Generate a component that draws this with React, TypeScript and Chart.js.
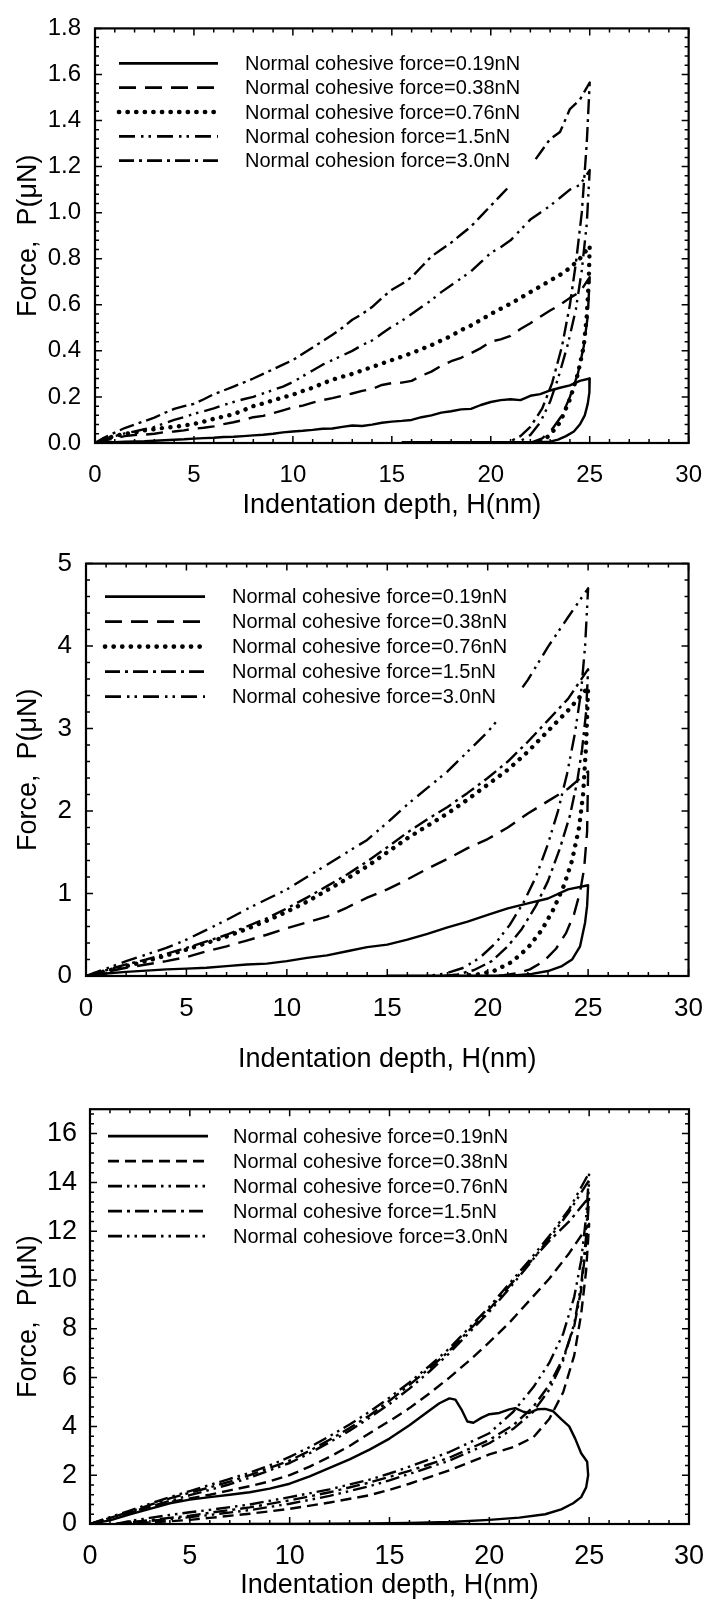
import React, { useEffect, useRef } from 'react';
import { Chart, registerables } from 'chart.js';

Chart.register(...registerables);

const FONT = "'Liberation Sans', Arial, Helvetica, sans-serif";
const X_TITLE = 'Indentation depth, H(nm)';
const Y_TITLE = 'Force,  P(\u03BCN)';

// ---------------- Chart 1 ----------------
const C1_LABELS = [
  'Normal cohesive force=0.19nN',
  'Normal cohesive force=0.38nN',
  'Normal cohesive force=0.76nN',
  'Normal cohesion force=1.5nN',
  'Normal cohesion force=3.0nN',
];
const C1_Y_TICKS = [0, 0.2, 0.4, 0.6, 0.8, 1.0, 1.2, 1.4, 1.6, 1.8];
const H1_LOAD = [0, 0.5, 1, 1.5, 2, 2.5, 3, 3.5, 4, 4.5, 5, 5.5, 6, 6.5, 7, 7.5, 8, 8.5, 9, 9.5, 10, 10.5, 11, 11.5, 12, 12.5, 13, 13.5, 14, 14.5, 15, 15.5, 16, 16.5, 17, 17.5, 18, 18.5, 19, 19.5, 20, 20.5, 21, 21.5, 22, 22.5, 23, 23.5, 24, 24.5, 25];
const P1_019_LOAD = [0, 0.003, 0.004, 0.006, 0.007, 0.008, 0.01, 0.012, 0.014, 0.016, 0.019, 0.021, 0.023, 0.026, 0.027, 0.03, 0.033, 0.036, 0.04, 0.046, 0.05, 0.053, 0.057, 0.062, 0.063, 0.07, 0.076, 0.074, 0.08, 0.088, 0.093, 0.096, 0.1, 0.112, 0.12, 0.132, 0.138, 0.146, 0.148, 0.165, 0.178, 0.186, 0.19, 0.186, 0.205, 0.212, 0.228, 0.24, 0.25, 0.27, 0.28];
const P1_038_LOAD = [0, 0.012, 0.02, 0.03, 0.035, 0.036, 0.04, 0.047, 0.05, 0.055, 0.062, 0.066, 0.072, 0.082, 0.09, 0.1, 0.112, 0.118, 0.13, 0.142, 0.155, 0.162, 0.175, 0.186, 0.195, 0.205, 0.215, 0.226, 0.235, 0.252, 0.26, 0.262, 0.27, 0.292, 0.31, 0.335, 0.355, 0.37, 0.39, 0.412, 0.44, 0.45, 0.465, 0.495, 0.52, 0.548, 0.575, 0.6, 0.63, 0.655, 0.72];
const P1_076_LOAD = [0, 0.018, 0.03, 0.04, 0.045, 0.055, 0.06, 0.066, 0.07, 0.076, 0.083, 0.093, 0.105, 0.115, 0.125, 0.142, 0.16, 0.172, 0.185, 0.198, 0.21, 0.226, 0.24, 0.258, 0.275, 0.288, 0.3, 0.315, 0.33, 0.345, 0.36, 0.375, 0.39, 0.408, 0.425, 0.445, 0.465, 0.49, 0.51, 0.535, 0.56, 0.583, 0.605, 0.63, 0.655, 0.68, 0.705, 0.73, 0.76, 0.8, 0.855];
const P1_15_LOAD = [0, 0.018, 0.03, 0.042, 0.05, 0.06, 0.07, 0.085, 0.1, 0.112, 0.127, 0.138, 0.15, 0.165, 0.178, 0.19, 0.2, 0.215, 0.23, 0.245, 0.265, 0.29, 0.315, 0.34, 0.36, 0.38, 0.4, 0.425, 0.445, 0.475, 0.505, 0.53, 0.56, 0.59, 0.62, 0.655, 0.685, 0.715, 0.745, 0.785, 0.825, 0.85, 0.88, 0.925, 0.97, 1.0, 1.03, 1.065, 1.1, 1.12, 1.185];
const P1_30_LOAD = [0, 0.025, 0.045, 0.065, 0.08, 0.095, 0.11, 0.13, 0.148, 0.16, 0.17, 0.19, 0.212, 0.228, 0.245, 0.262, 0.28, 0.3, 0.32, 0.34, 0.36, 0.388, 0.415, 0.442, 0.47, 0.5, 0.535, 0.56, 0.59, 0.63, 0.665, 0.69, 0.72, 0.765, 0.81, 0.84, 0.87, 0.905, 0.94, 0.985, 1.03, 1.075, 1.12, 1.16, 1.2, 1.26, 1.32, 1.35, 1.45, 1.49, 1.565];
const H1_019_UNLOAD = [25, 24.97, 24.9, 24.75, 24.5, 24.2, 23.8, 23.4, 23.0, 22.5, 21, 18, 15.5];
const P1_019_UNLOAD = [0.28, 0.22, 0.17, 0.12, 0.08, 0.05, 0.03, 0.015, 0.006, 0.003, 0.003, 0.003, 0.003];
const H1_038_UNLOAD = [25, 24.9, 24.7, 24.4, 24.0, 23.6, 23.1, 22.6, 22.1, 21.8];
const P1_038_UNLOAD = [0.72, 0.55, 0.42, 0.3, 0.2, 0.12, 0.06, 0.02, 0.004, 0];
const H1_076_UNLOAD = [25, 24.95, 24.85, 24.7, 24.4, 24.0, 23.5, 23.0, 22.6, 22.3];
const P1_076_UNLOAD = [0.855, 0.7, 0.55, 0.42, 0.3, 0.19, 0.09, 0.035, 0.01, 0];
const H1_15_UNLOAD = [25, 24.85, 24.6, 24.3, 23.9, 23.4, 23.0, 22.5, 22.0, 21.5, 21.2];
const P1_15_UNLOAD = [1.185, 0.95, 0.75, 0.58, 0.43, 0.28, 0.18, 0.09, 0.035, 0.008, 0];
const H1_30_UNLOAD = [25, 24.85, 24.6, 24.3, 24.0, 23.6, 23.1, 22.6, 22.0, 21.5, 21.0, 20.7];
const P1_30_UNLOAD = [1.565, 1.3, 1.0, 0.78, 0.6, 0.42, 0.26, 0.15, 0.07, 0.03, 0.008, 0];

// ---------------- Chart 2 ----------------
const C2_LABELS = [
  'Normal cohesive force=0.19nN',
  'Normal cohesive force=0.38nN',
  'Normal cohesive force=0.76nN',
  'Normal cohesive force=1.5nN',
  'Normal cohesive force=3.0nN',
];
const H2_LOAD = [0, 1, 2, 3, 4, 5, 6, 7, 8, 9, 10, 11, 12, 13, 14, 15, 16, 17, 18, 19, 20, 21, 22, 23, 24, 25];
const P2_019_LOAD = [0, 0.03, 0.05, 0.065, 0.08, 0.09, 0.1, 0.12, 0.14, 0.15, 0.18, 0.22, 0.25, 0.3, 0.35, 0.38, 0.44, 0.51, 0.59, 0.66, 0.74, 0.82, 0.88, 0.94, 1.05, 1.1];
const P2_038_LOAD = [0, 0.05, 0.1, 0.14, 0.18, 0.23, 0.3, 0.36, 0.43, 0.5, 0.58, 0.65, 0.72, 0.83, 0.95, 1.05, 1.17, 1.3, 1.42, 1.55, 1.66, 1.8, 1.97, 2.12, 2.27, 2.48];
const P2_076_LOAD = [0, 0.06, 0.12, 0.18, 0.25, 0.32, 0.4, 0.48, 0.57, 0.67, 0.78, 0.9, 1.04, 1.18, 1.33, 1.5, 1.67, 1.82, 1.97, 2.14, 2.32, 2.5, 2.72, 2.97, 3.22, 3.5];
const P2_15_LOAD = [0, 0.07, 0.14, 0.2, 0.27, 0.34, 0.42, 0.5, 0.6, 0.7, 0.82, 0.95, 1.09, 1.23, 1.39, 1.56, 1.74, 1.9, 2.05, 2.22, 2.4, 2.6, 2.84, 3.1, 3.36, 3.72];
const P2_30_LOAD = [0, 0.09, 0.18, 0.26, 0.34, 0.44, 0.56, 0.68, 0.81, 0.93, 1.05, 1.2, 1.35, 1.5, 1.65, 1.86, 2.08, 2.28, 2.48, 2.72, 2.96, 3.25, 3.59, 3.99, 4.35, 4.7];
const H2_019_UNLOAD = [25, 24.95, 24.85, 24.6, 24.2, 23.7, 23.0, 22.2, 21.3, 20.5, 18, 15];
const P2_019_UNLOAD = [1.1, 0.85, 0.65, 0.36, 0.2, 0.12, 0.06, 0.025, 0.008, 0.003, 0.003, 0.003];
const H2_038_UNLOAD = [25, 24.95, 24.8, 24.6, 24.3, 23.9, 23.4, 22.8, 22.1, 21.4, 20.8, 20.3];
const P2_038_UNLOAD = [2.48, 1.75, 1.3, 1.02, 0.75, 0.52, 0.33, 0.18, 0.08, 0.03, 0.01, 0];
const H2_076_UNLOAD = [25, 24.9, 24.75, 24.55, 24.2, 23.8, 23.3, 22.7, 22.0, 21.2, 20.3, 19.5, 18.7];
const P2_076_UNLOAD = [3.5, 2.8, 2.2, 1.8, 1.4, 1.1, 0.82, 0.56, 0.34, 0.17, 0.06, 0.02, 0];
const H2_15_UNLOAD = [25, 24.9, 24.7, 24.45, 24.1, 23.6, 23.0, 22.4, 21.7, 21.0, 20.2, 19.3, 18.5, 17.8];
const P2_15_UNLOAD = [3.72, 3.2, 2.75, 2.35, 1.95, 1.55, 1.15, 0.85, 0.57, 0.36, 0.18, 0.07, 0.02, 0];
const H2_30_UNLOAD = [25, 24.85, 24.65, 24.35, 23.95, 23.5, 23.0, 22.4, 21.8, 21.1, 20.4, 19.6, 18.8, 17.9, 17.0];
const P2_30_UNLOAD = [4.7, 4.0, 3.45, 2.95, 2.45, 2.0, 1.6, 1.2, 0.9, 0.62, 0.4, 0.22, 0.1, 0.03, 0];

// ---------------- Chart 3 ----------------
const C3_LABELS = [
  'Normal cohesive force=0.19nN',
  'Normal cohesive force=0.38nN',
  'Normal cohesive force=0.76nN',
  'Normal cohesive force=1.5nN',
  'Normal cohesiove force=3.0nN',
];
const H3_019_LOAD = [0, 1, 2, 3, 4, 5, 6, 7, 8, 9, 10, 11, 12, 13, 14, 15, 16, 17, 17.5, 18, 18.3, 18.6, 18.9, 19.2, 19.6, 20, 20.5, 21, 21.3, 21.7, 22, 22.4, 22.8, 23.2, 23.6, 24, 24.3, 24.6, 24.9];
const P3_019_LOAD = [0, 0.15, 0.4, 0.62, 0.85, 1.0, 1.1, 1.2, 1.3, 1.45, 1.65, 1.95, 2.3, 2.65, 3.05, 3.5, 4.05, 4.65, 4.95, 5.15, 5.1, 4.7, 4.2, 4.15, 4.35, 4.5, 4.55, 4.7, 4.75, 4.6, 4.55, 4.7, 4.72, 4.62, 4.3, 4.0, 3.5, 2.9, 2.55];
const H3_019_UNLOAD = [24.9, 24.95, 24.85, 24.6, 24.2, 23.6, 22.8, 21.5, 20, 18, 16, 14, 12, 10, 8];
const P3_019_UNLOAD = [2.55, 2.0, 1.5, 1.1, 0.85, 0.6, 0.4, 0.26, 0.17, 0.08, 0.04, 0.02, 0.01, 0.003, 0];
const H3_LOAD = [0, 1, 2, 3, 4, 5, 6, 7, 8, 9, 10, 11, 12, 13, 14, 15, 16, 17, 18, 19, 20, 21, 22, 23, 24, 25];
const P3_038_LOAD = [0, 0.25, 0.5, 0.7, 0.9, 1.05, 1.2, 1.38, 1.55, 1.75, 2.0, 2.35, 2.75, 3.2, 3.72, 4.22, 4.75, 5.35, 6.0, 6.7, 7.45, 8.25, 9.15, 10.05, 11.1, 12.3];
const P3_076_LOAD = [0, 0.22, 0.45, 0.7, 0.95, 1.18, 1.4, 1.63, 1.9, 2.2, 2.5, 2.9, 3.35, 3.82, 4.35, 4.92, 5.55, 6.25, 7.0, 7.85, 8.7, 9.65, 10.65, 11.7, 12.8, 14.1];
const P3_15_LOAD = [0, 0.25, 0.5, 0.78, 1.05, 1.28, 1.5, 1.74, 2.0, 2.3, 2.6, 3.0, 3.45, 3.93, 4.45, 5.05, 5.7, 6.38, 7.1, 7.95, 8.8, 9.75, 10.7, 11.6, 12.4, 13.4];
const P3_30_LOAD = [0, 0.28, 0.55, 0.83, 1.1, 1.35, 1.6, 1.85, 2.1, 2.4, 2.75, 3.15, 3.6, 4.08, 4.6, 5.18, 5.8, 6.48, 7.2, 8.05, 8.9, 9.85, 10.8, 11.8, 12.9, 14.4];
const H3_UNLOAD = [25, 24.85, 24.6, 24.25, 23.7, 23.0, 22.2, 21.2, 20, 18, 16, 15, 14, 12, 10, 8, 6, 5, 4, 3, 2, 1.3];
const P3_038_UNLOAD = [12.3, 10.4, 8.6, 6.9, 5.4, 4.3, 3.55, 3.15, 2.85, 2.2, 1.65, 1.4, 1.18, 0.88, 0.62, 0.42, 0.25, 0.17, 0.11, 0.07, 0.03, 0];
const P3_076_UNLOAD = [14.1, 11.8, 9.8, 8.2, 6.7, 5.5, 4.6, 3.9, 3.31, 2.6, 2.05, 1.79, 1.55, 1.15, 0.83, 0.57, 0.37, 0.28, 0.2, 0.13, 0.06, 0];
const P3_15_UNLOAD = [13.4, 11.5, 9.6, 8.1, 6.8, 5.7, 4.8, 4.05, 3.45, 2.72, 2.18, 1.93, 1.7, 1.3, 0.97, 0.68, 0.46, 0.34, 0.25, 0.16, 0.07, 0];
const P3_30_UNLOAD = [14.4, 12.6, 10.8, 9.3, 7.8, 6.6, 5.6, 4.6, 3.72, 2.95, 2.35, 2.07, 1.82, 1.42, 1.1, 0.8, 0.58, 0.48, 0.37, 0.25, 0.12, 0];

const X_TICKS = [0, 5, 10, 15, 20, 25, 30];

// ---------------- helpers ----------------
function loop(lh: number[], lp: number[], uh: number[], up: number[]) {
  const pts: { x: number; y: number }[] = [];
  lh.forEach((h, i) => pts.push({ x: h, y: lp[i] }));
  uh.forEach((h, i) => pts.push({ x: h, y: up[i] }));
  return pts;
}

const LW = 2.4;
const SOLID = { dash: [] as number[], cap: 'butt', width: LW };
const LONGDASH = { dash: [17, 9], cap: 'butt', width: LW };
const SHORTDASH = { dash: [11, 6], cap: 'butt', width: LW };
const DOTS = { dash: [0.1, 8.5], cap: 'round', width: 4.4 };
const DASHDOT = { dash: [15, 5, 3, 5], cap: 'butt', width: LW };
const DASHDOTDOT = { dash: [16, 6, 2.5, 5, 2.5, 6], cap: 'butt', width: LW };
const DASHDOTDOT3 = { dash: [14, 5, 2.5, 5, 2.5, 5], cap: 'butt', width: LW };
const DASHDOT3 = { dash: [14, 5, 3, 5], cap: 'butt', width: LW };

const SPEC1 = {
  labels: C1_LABELS,
  series: [
    loop(H1_LOAD, P1_019_LOAD, H1_019_UNLOAD, P1_019_UNLOAD),
    loop(H1_LOAD, P1_038_LOAD, H1_038_UNLOAD, P1_038_UNLOAD),
    loop(H1_LOAD, P1_076_LOAD, H1_076_UNLOAD, P1_076_UNLOAD),
    loop(H1_LOAD, P1_15_LOAD, H1_15_UNLOAD, P1_15_UNLOAD),
    loop(H1_LOAD, P1_30_LOAD, H1_30_UNLOAD, P1_30_UNLOAD),
  ],
  styles: [SOLID, LONGDASH, DOTS, DASHDOTDOT, DASHDOT],
  yTicks: C1_Y_TICKS,
  yMax: 1.8, yStep: 0.2, decimals: 1, yMinor: 0.04, yMajorEvery: 5,
  height: 534, padTop: 19, padRight: 17, yAxisWidth: 95, xAxisHeight: 91,
  tickFont: 24, xTickPad: 18, yTickPad: 14, xTitlePad: 12, yTitlePad: 12,
  legend: { fontSize: 20, lineStart: 24, lineLen: 99, textStart: 150, firstRow: 35, rowGap: 24.3, boxPadRight: 14, boxPadBottom: 26 },
};

const SPEC2 = {
  labels: C2_LABELS,
  series: [
    loop(H2_LOAD, P2_019_LOAD, H2_019_UNLOAD, P2_019_UNLOAD),
    loop(H2_LOAD, P2_038_LOAD, H2_038_UNLOAD, P2_038_UNLOAD),
    loop(H2_LOAD, P2_076_LOAD, H2_076_UNLOAD, P2_076_UNLOAD),
    loop(H2_LOAD, P2_15_LOAD, H2_15_UNLOAD, P2_15_UNLOAD),
    loop(H2_LOAD, P2_30_LOAD, H2_30_UNLOAD, P2_30_UNLOAD),
  ],
  styles: [SOLID, LONGDASH, DOTS, DASHDOT, DASHDOTDOT],
  yTicks: null,
  yMax: 5, yStep: 1, decimals: 0, yMinor: 0.2, yMajorEvery: 5,
  height: 546, padTop: 18, padRight: 28, yAxisWidth: 86, xAxisHeight: 104,
  tickFont: 26, xTickPad: 17, yTickPad: 14, xTitlePad: 4, yTitlePad: 12,
  legend: { fontSize: 20, lineStart: 19, lineLen: 100, textStart: 146, firstRow: 33, rowGap: 25, boxPadRight: 14, boxPadBottom: 24 },
};

const SPEC3 = {
  labels: C3_LABELS,
  series: [
    loop(H3_019_LOAD, P3_019_LOAD, H3_019_UNLOAD, P3_019_UNLOAD),
    loop(H3_LOAD, P3_038_LOAD, H3_UNLOAD, P3_038_UNLOAD),
    loop(H3_LOAD, P3_076_LOAD, H3_UNLOAD, P3_076_UNLOAD),
    loop(H3_LOAD, P3_15_LOAD, H3_UNLOAD, P3_15_UNLOAD),
    loop(H3_LOAD, P3_30_LOAD, H3_UNLOAD, P3_30_UNLOAD),
  ],
  styles: [SOLID, SHORTDASH, DASHDOTDOT3, DASHDOT3, DASHDOTDOT3],
  yTicks: null,
  yMax: 17, yStep: 2, decimals: 0, yMinor: 0.4, yMajorEvery: 5,
  height: 522, padTop: 18, padRight: 20, yAxisWidth: 90, xAxisHeight: 78,
  tickFont: 27, xTickPad: 16, yTickPad: 13, xTitlePad: 0, yTitlePad: 12,
  legend: { fontSize: 20, lineStart: 18, lineLen: 100, textStart: 143, firstRow: 27, rowGap: 25, boxPadRight: 14, boxPadBottom: 25 },
};

function decorPlugin(spec: any) {
  return {
    id: 'decor',
    afterDatasetsDraw(chart: any) {
      const { ctx, chartArea: a } = chart;
      const L = spec.legend;
      ctx.save();
      ctx.font = `${L.fontSize}px ${FONT}`;
      const texts: string[] = chart.data.datasets.map((d: any) => d.label);
      const maxW = Math.max(...texts.map((t) => ctx.measureText(t).width));
      const boxR = a.left + L.textStart + maxW + L.boxPadRight;
      const boxB = a.top + L.firstRow + (texts.length - 1) * L.rowGap + L.boxPadBottom;
      ctx.fillStyle = '#fff';
      ctx.fillRect(a.left + 1, a.top + 1, boxR - a.left - 1, boxB - a.top - 1);
      chart.data.datasets.forEach((d: any, i: number) => {
        const y = a.top + L.firstRow + i * L.rowGap;
        ctx.beginPath();
        ctx.setLineDash(d.borderDash || []);
        ctx.lineCap = d.borderCapStyle || 'butt';
        ctx.lineWidth = d.borderWidth + 0.3;
        ctx.strokeStyle = '#000';
        ctx.moveTo(a.left + L.lineStart, y);
        ctx.lineTo(a.left + L.lineStart + L.lineLen, y);
        ctx.stroke();
        ctx.setLineDash([]);
        ctx.fillStyle = '#000';
        ctx.textBaseline = 'middle';
        ctx.textAlign = 'left';
        ctx.fillText(d.label, a.left + L.textStart, y + 1);
      });
      ctx.restore();
    },
    afterDraw(chart: any) {
      const { ctx, chartArea: a, scales } = chart;
      const xs = scales.x;
      const ys = scales.y;
      ctx.save();
      ctx.setLineDash([]);
      ctx.strokeStyle = '#000';
      ctx.lineWidth = 2.2;
      ctx.strokeRect(a.left, a.top, a.right - a.left, a.bottom - a.top);
      ctx.lineWidth = 1.5;
      ctx.beginPath();
      for (let n = 0; n <= 30; n++) {
        const px = xs.getPixelForValue(n);
        const len = n % 5 === 0 ? 7 : 4;
        ctx.moveTo(px, a.bottom);
        ctx.lineTo(px, a.bottom - len);
        ctx.moveTo(px, a.top);
        ctx.lineTo(px, a.top + len);
      }
      const ny = Math.floor(spec.yMax / spec.yMinor + 1e-6);
      for (let n = 0; n <= ny; n++) {
        const py = ys.getPixelForValue(n * spec.yMinor);
        const len = n % spec.yMajorEvery === 0 ? 7 : 4;
        ctx.moveTo(a.left, py);
        ctx.lineTo(a.left + len, py);
        ctx.moveTo(a.right, py);
        ctx.lineTo(a.right - len, py);
      }
      ctx.stroke();
      ctx.restore();
    },
  };
}

function buildConfig(spec: any): any {
  return {
    type: 'line',
    data: {
      datasets: spec.series.map((pts: any, i: number) => ({
        label: spec.labels[i],
        data: pts,
        borderColor: '#000',
        backgroundColor: '#000',
        borderWidth: spec.styles[i].width,
        borderDash: spec.styles[i].dash,
        borderCapStyle: spec.styles[i].cap,
        borderJoinStyle: 'round',
        pointRadius: 0,
        fill: false,
        tension: 0,
      })),
    },
    options: {
      animation: false,
      responsive: false,
      devicePixelRatio: 1,
      events: [],
      layout: { padding: { left: 0, right: spec.padRight, top: spec.padTop, bottom: 0 } },
      plugins: { legend: { display: false }, tooltip: { enabled: false }, title: { display: false } },
      scales: {
        x: {
          type: 'linear',
          position: 'bottom',
          min: 0,
          max: 30,
          afterFit: (s: any) => { s.height = spec.xAxisHeight; },
          afterBuildTicks: (s: any) => { s.ticks = X_TICKS.map((v) => ({ value: v })); },
          ticks: {
            stepSize: 5,
            maxRotation: 0,
            autoSkip: false,
            color: '#000',
            padding: spec.xTickPad,
            font: { family: FONT, size: spec.tickFont },
          },
          grid: { display: false, drawTicks: false },
          border: { display: false },
          title: {
            display: true,
            text: X_TITLE,
            color: '#000',
            font: { family: FONT, size: 27 },
            padding: { top: 0, bottom: spec.xTitlePad },
          },
        },
        y: {
          type: 'linear',
          position: 'left',
          min: 0,
          max: spec.yMax,
          afterFit: (s: any) => { s.width = spec.yAxisWidth; },
          afterBuildTicks: spec.yTicks ? (s: any) => { s.ticks = spec.yTicks.map((v: number) => ({ value: v })); } : undefined,
          ticks: {
            stepSize: spec.yStep,
            includeBounds: false,
            color: '#000',
            padding: spec.yTickPad,
            font: { family: FONT, size: spec.tickFont },
            callback: (v: any) => Number(v).toFixed(spec.decimals),
          },
          grid: { display: false, drawTicks: false },
          border: { display: false },
          title: {
            display: true,
            text: Y_TITLE,
            color: '#000',
            font: { family: FONT, size: 27 },
            padding: { top: spec.yTitlePad, bottom: 0 },
          },
        },
      },
    },
    plugins: [decorPlugin(spec)],
  };
}

function Panel({ spec, top }: { spec: any; top: number }) {
  const ref = useRef<HTMLCanvasElement>(null);
  useEffect(() => {
    if (!ref.current) return;
    const chart = new Chart(ref.current, buildConfig(spec));
    return () => chart.destroy();
  }, [spec]);
  return (
    <div style={{ position: 'absolute', left: 0, top, width: 720, height: spec.height }}>
      <canvas ref={ref} width={720} height={spec.height} style={{ display: 'block', width: 720, height: spec.height }} />
    </div>
  );
}

export default function App() {
  return (
    <div style={{ position: 'absolute', left: 0, top: 0, width: 720, height: 1602, background: '#fff', overflow: 'hidden' }}>
      <Panel spec={SPEC1} top={0} />
      <Panel spec={SPEC2} top={534} />
      <Panel spec={SPEC3} top={1080} />
    </div>
  );
}
